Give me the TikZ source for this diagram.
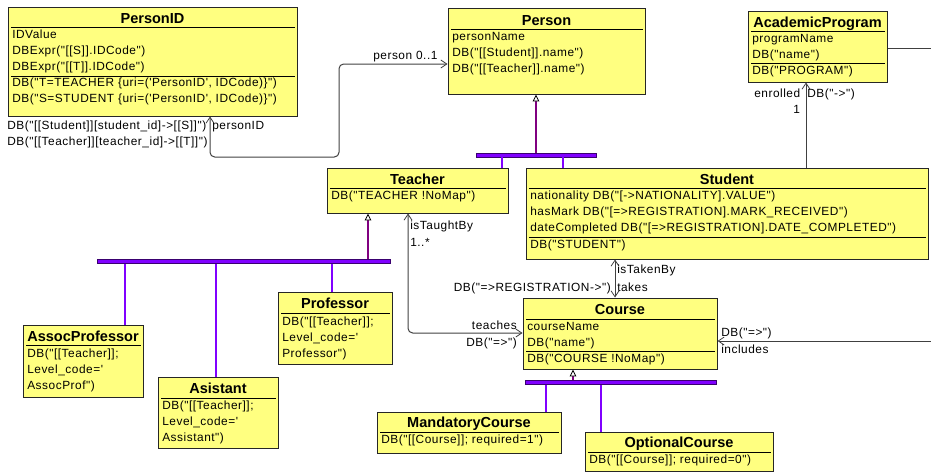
\documentclass[tikz,border=0pt]{standalone}
\usepackage{fontspec}
\setmainfont{Liberation Sans}
\newfontfamily\attrfamily{Liberation Sans}[LetterSpace=4.5,Ligatures=ResetAll]
\usetikzlibrary{arrows.meta,fit,shadows}

\definecolor{classfill}{HTML}{FFFF80}
\definecolor{genpurple}{HTML}{800080}
\definecolor{genviolet}{HTML}{8000FF}
\definecolor{barrim}{HTML}{3A0070}
\definecolor{assocgray}{HTML}{404040}

\newcommand\attrfont{\attrfamily\fontsize{8.9pt}{12pt}\selectfont}
\newcommand\namefont{\fontsize{10.9pt}{13pt}\selectfont\bfseries}

\tikzset{
  classbox/.style={draw=black!85, fill=classfill, line width=0.75pt, inner sep=0pt,
    drop shadow={shadow xshift=1.1pt, shadow yshift=-1.1pt, fill=black!40, opacity=1}},
  classname/.style={anchor=base, inner sep=0pt, font=\namefont},
  attr/.style={anchor=base west, inner sep=0pt, font=\attrfont},
  attrr/.style={anchor=base east, inner sep=0pt, font=\attrfont},
  rule/.style={draw=black, line width=0.75pt},
  barb/.tip={Straight Barb[length=4.5pt, width=6pt, line width=0.6pt]},
  assoc/.style={draw=assocgray, line width=0.75pt, rounded corners=3.5pt},
  gentip/.tip={Triangle[length=5.2pt, width=5pt, fill=white, color=black, line width=0.6pt]},
  genup/.style={draw=genpurple, line width=2.2pt, -gentip},
  gendown/.style={draw=genviolet, line width=2pt},
  genbar/.style={draw=barrim, fill=genviolet, line width=0.6pt, inner sep=0pt},
}

\begin{document}
\begin{tikzpicture}[x=0.75pt, y=-0.75pt]
\useasboundingbox (0,0) rectangle (931,471);

% ---------- class boxes ----------
\node[classbox, fit={(8,7) (297,116)}]   (pid) {};
\node[classbox, fit={(448,8) (645,94)}]  (person) {};
\node[classbox, fit={(748,11) (887,82)}] (ap) {};
\node[classbox, fit={(327,168) (508,213)}] (teacher) {};
\node[classbox, fit={(526,168) (928,259)}] (student) {};
\node[classbox, fit={(523,298) (717,369)}] (course) {};
\node[classbox, fit={(278,292) (392,364)}] (prof) {};
\node[classbox, fit={(23,325) (143,397)}]  (assoc) {};
\node[classbox, fit={(158,377) (278,448)}] (asist) {};
\node[classbox, fit={(377,412) (561,453)}] (mand) {};
\node[classbox, fit={(585,432) (773,471)}] (opt) {};

% ---------- PersonID ----------
\node[classname] (pid-n) at (152.5,23) {PersonID};
\draw[rule] (11,27) -- (295,27);
\node[attr] (pid-a1) at (12,38.5) {IDValue};
\node[attr] (pid-a2) at (12,54.5) {DBExpr("[[S]].IDCode")};
\node[attr] (pid-a3) at (12,70.5) {DBExpr("[[T]].IDCode")};
\draw[rule] (11,76) -- (295,76);
\node[attr] (pid-a4) at (12,86.5) {DB("T=TEACHER \{uri=('PersonID', IDCode)\}")};
\node[attr] (pid-a5) at (12,102.5) {DB("S=STUDENT \{uri=('PersonID', IDCode)\}")};

% ---------- Person ----------
\node[classname] (person-n) at (546.5,25) {Person};
\draw[rule] (451,29) -- (643,29);
\node[attr] (person-a1) at (452,40) {personName};
\node[attr] (person-a2) at (452,56) {DB("[[Student]].name")};
\node[attr] (person-a3) at (452,72) {DB("[[Teacher]].name")};

% ---------- AcademicProgram ----------
\node[classname] (ap-n) at (817.5,27) {AcademicProgram};
\draw[rule] (751,31.5) -- (885,31.5);
\node[attr] (ap-a1) at (752,42) {programName};
\node[attr] (ap-a2) at (752,58) {DB("name")};
\draw[rule] (751,63.5) -- (885,63.5);
\node[attr] (ap-a3) at (752,74) {DB("PROGRAM")};

% ---------- Teacher ----------
\node[classname] (teacher-n) at (417.5,184) {Teacher};
\draw[rule] (330,188.5) -- (506,188.5);
\node[attr] (teacher-a1) at (331,199.5) {DB("TEACHER !NoMap")};

% ---------- Student ----------
\node[classname] (student-n) at (727,184) {Student};
\draw[rule] (529,188.5) -- (926,188.5);
\node[attr] (student-a1) at (530,199.5) {nationality DB("[->NATIONALITY].VALUE")};
\node[attr] (student-a2) at (530,215.5) {hasMark DB("[=>REGISTRATION].MARK\_RECEIVED")};
\node[attr] (student-a3) at (530,231.5) {dateCompleted DB("[=>REGISTRATION].DATE\_COMPLETED")};
\draw[rule] (529,237) -- (926,237);
\node[attr] (student-a4) at (530,248) {DB("STUDENT")};

% ---------- Course ----------
\node[classname] (course-n) at (620,314) {Course};
\draw[rule] (526,319) -- (715,319);
\node[attr] (course-a1) at (527,330) {courseName};
\node[attr] (course-a2) at (527,346) {DB("name")};
\draw[rule] (526,351.5) -- (715,351.5);
\node[attr] (course-a3) at (527,362) {DB("COURSE !NoMap")};

% ---------- Professor ----------
\node[classname] (prof-n) at (335,308) {Professor};
\draw[rule] (281,313) -- (390,313);
\node[attr] (prof-a1) at (282,325) {DB("[[Teacher]];};
\node[attr] (prof-a2) at (282,341) {Level\_code='};
\node[attr] (prof-a3) at (282,357) {Professor")};

% ---------- AssocProfessor ----------
\node[classname] (assoc-n) at (83,341.5) {AssocProfessor};
\draw[rule] (26,345.5) -- (141,345.5);
\node[attr] (assoc-a1) at (27,357) {DB("[[Teacher]];};
\node[attr] (assoc-a2) at (27,373) {Level\_code='};
\node[attr] (assoc-a3) at (27,389) {AssocProf")};

% ---------- Asistant ----------
\node[classname] (asist-n) at (218,393) {Asistant};
\draw[rule] (161,398) -- (276,398);
\node[attr] (asist-a1) at (162,409) {DB("[[Teacher]];};
\node[attr] (asist-a2) at (162,425) {Level\_code='};
\node[attr] (asist-a3) at (162,441) {Assistant")};

% ---------- MandatoryCourse ----------
\node[classname] (mand-n) at (469,427.5) {MandatoryCourse};
\draw[rule] (380,432.5) -- (559,432.5);
\node[attr] (mand-a1) at (381,443.5) {DB("[[Course]]; required=1")};

% ---------- OptionalCourse ----------
\node[classname] (opt-n) at (679,447.5) {OptionalCourse};
\draw[rule] (588,452.5) -- (771,452.5);
\node[attr] (opt-a1) at (589,463.5) {DB("[[Course]]; required=0")};

% ---------- generalisation bars ----------
\node[genbar, fit={(476,153) (596,157)}] (pbar) {};
\node[genbar, fit={(97,259) (390,263.5)}] (tbar) {};
\node[genbar, fit={(525,380) (716,384.5)}] (cbar) {};

% Person <- Teacher, Student
\draw[genup] (pbar.north -| 536,0) -- (person.south -| 536,0);
\draw[gendown] (pbar.south -| 502,0) -- (teacher.north -| 502,0);
\draw[gendown] (pbar.south -| 563,0) -- (student.north -| 563,0);

% Teacher <- AssocProfessor, Asistant, Professor
\draw[genup] (tbar.north -| 368,0) -- (teacher.south -| 368,0);
\draw[gendown] (tbar.south -| 125,0) -- (assoc.north -| 125,0);
\draw[gendown] (tbar.south -| 216,0) -- (asist.north -| 216,0);
\draw[gendown] (tbar.south -| 332,0) -- (prof.north -| 332,0);

% Course <- MandatoryCourse, OptionalCourse
\draw[genup] (cbar.north -| 573,0) -- (course.south -| 573,0);
\draw[gendown] (cbar.south -| 546,0) -- (mand.north -| 546,0);
\draw[gendown] (cbar.south -| 601,0) -- (opt.north -| 601,0);

% ---------- associations ----------
% PersonID <-> Person
\draw[assoc, barb-barb] (pid.south -| 210,0) -- (210,157) -- (339,157) -- (339,64) -- (person.west |- 0,64);
\node[attr] (l-person) at (373,59.5) {person 0..1};
\node[attr] (l-pid) at (212,129) {personID};
\node[attr] (l-sid) at (7,129) {DB("[[Student]][student\_id]->[[S]]")};
\node[attr] (l-tid) at (7,145.5) {DB("[[Teacher]][teacher\_id]->[[T]]")};

% Student -> AcademicProgram
\draw[assoc, -barb] (student.north -| 806,0) -- (ap.south -| 806,0);
\node[attr] (l-enr) at (754,97) {enrolled};
\node[attr] (l-enrdb) at (807,97) {DB("->")};
\node[attr] (l-one) at (793,113) {1};

% AcademicProgram, continuing to the right
\coordinate (ap-out) at (931,48);
\draw[assoc] (ap.east |- ap-out) -- (ap-out);

% Teacher <-> Course
\draw[assoc, barb-barb] (teacher.south -| 408,0) -- (408,333) -- (course.west |- 0,333);
\node[attr] (l-taught) at (410,229) {isTaughtBy};
\node[attr] (l-mult) at (410,246.5) {1..*};
\node[attrr] (l-teaches) at (517,329.5) {teaches};
\node[attrr] (l-teachdb) at (517,346) {DB("=>")};

% Student <-> Course
\draw[assoc, barb-barb] (student.south -| 615,0) -- (course.north -| 615,0);
\node[attr] (l-taken) at (617,273) {isTakenBy};
\node[attr] (l-takes) at (617,291.5) {takes};
\node[attrr] (l-reg) at (611,291.5) {DB("=>REGISTRATION->")};

% incoming "includes" association
\coordinate (incl-in) at (931,341);
\draw[assoc, -barb] (incl-in) -- (course.east |- incl-in);
\node[attr] (l-incdb) at (721,336.5) {DB("=>")};
\node[attr] (l-inc) at (721,353.5) {includes};
\end{tikzpicture}
\end{document}
